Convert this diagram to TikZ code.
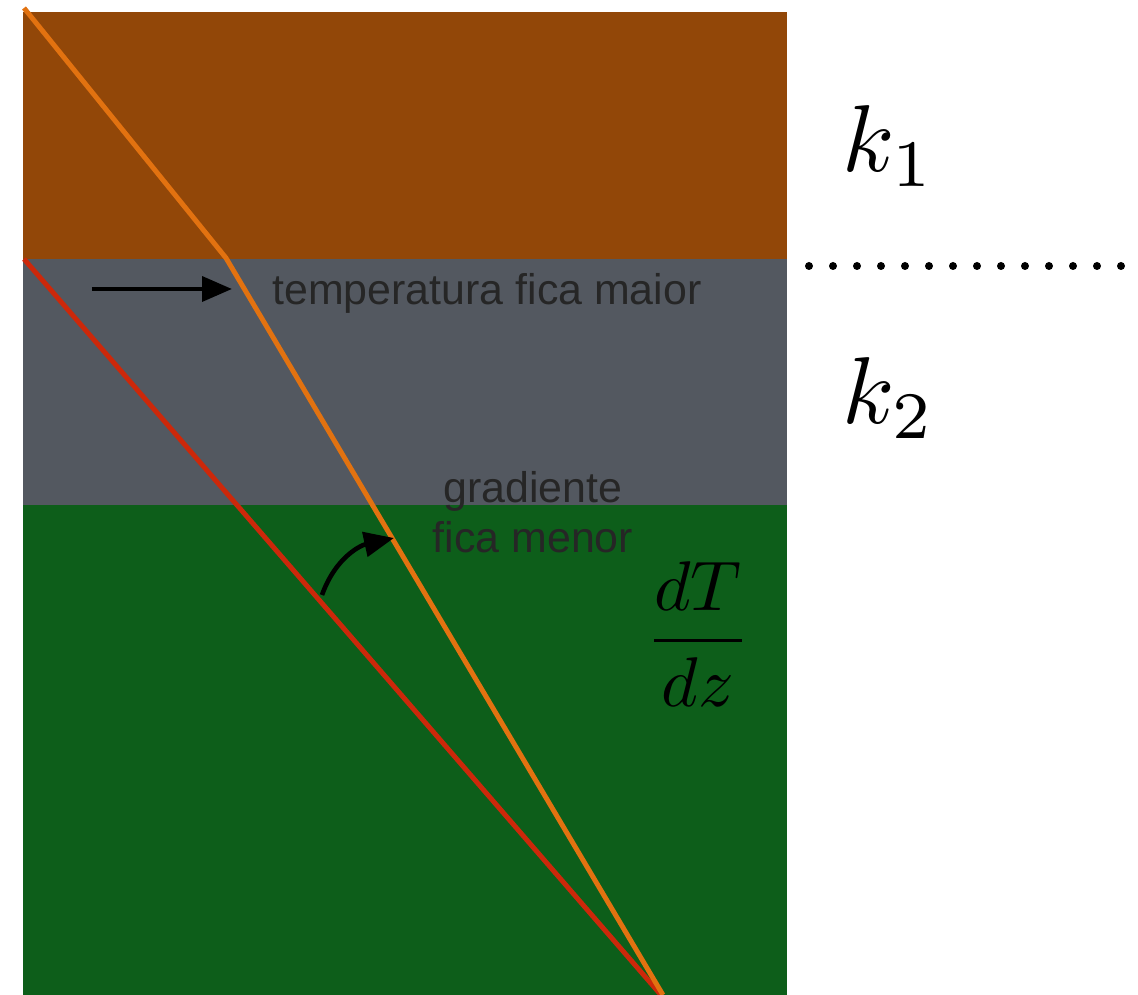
\documentclass[tikz,border=0pt]{standalone}
\usepackage{fontspec}
\newfontfamily\labelfont{Liberation Sans}
\usetikzlibrary{arrows.meta}
\definecolor{LayerBrown}{RGB}{146,71,8}
\definecolor{LayerGray}{RGB}{83,88,96}
\definecolor{LayerGreen}{RGB}{13,94,26}
\definecolor{LineOrange}{RGB}{226,114,16}
\definecolor{LineRed}{RGB}{204,40,10}

\tikzset{
  note/.style={text=black!85,font=\labelfont\fontsize{12.2}{14.2}\selectfont,align=center,inner sep=0pt},
  cond/.style={scale=2.7,transform shape,inner sep=0pt},
  profile/.style={line width=1.4pt},
  push/.style={line width=1.3pt,-{Triangle[length=8.5pt,width=7pt]}}
}

\begin{document}
\begin{tikzpicture}[x=0.01cm,y=-0.01cm]
  \useasboundingbox (0,0) rectangle (1138,995);
  % layers
  \fill[LayerBrown] (23,12) rectangle (787,259);
  \fill[LayerGray] (23,259) rectangle (787,505);
  \fill[LayerGreen] (23,505) rectangle (787,995);
  % temperature profiles
  \coordinate (surf) at (24,8);
  \coordinate (kink) at (226,258);
  \coordinate (base) at (663,995);
  \coordinate (start) at (24,259);
  \coordinate (end) at (661,995);
  \draw[profile,LineRed] (start) -- (end);
  \draw[profile,LineOrange] (surf) -- (kink) -- (base);
  % interface
  \foreach \x in {0,...,13} {
    \fill (809+24*\x,266) circle[radius=4];
  }
  % labels
  \node[cond] (k1) at (889,146) {$k_1$};
  \node[cond] (k2) at (889,398) {$k_2$};
  \node[scale=2,transform shape,inner sep=0pt] (grad) at (698,634) {$\displaystyle\frac{dT}{dz}$};
  \node[note] (hot) at (487,293) {temperatura fica maior};
  \node[note] (less) at (533,512) {gradiente\\fica menor};
  % arrows
  \coordinate (hotA) at (92,289);
  \coordinate (hotB) at (232,289);
  \draw[push] (hotA) -- (hotB);
  \coordinate (turnA) at (322,595);
  \coordinate (turnB) at (394,538);
  \draw[push] (turnA) .. controls (336,556) and (362,545) .. (turnB);
\end{tikzpicture}
\end{document}
